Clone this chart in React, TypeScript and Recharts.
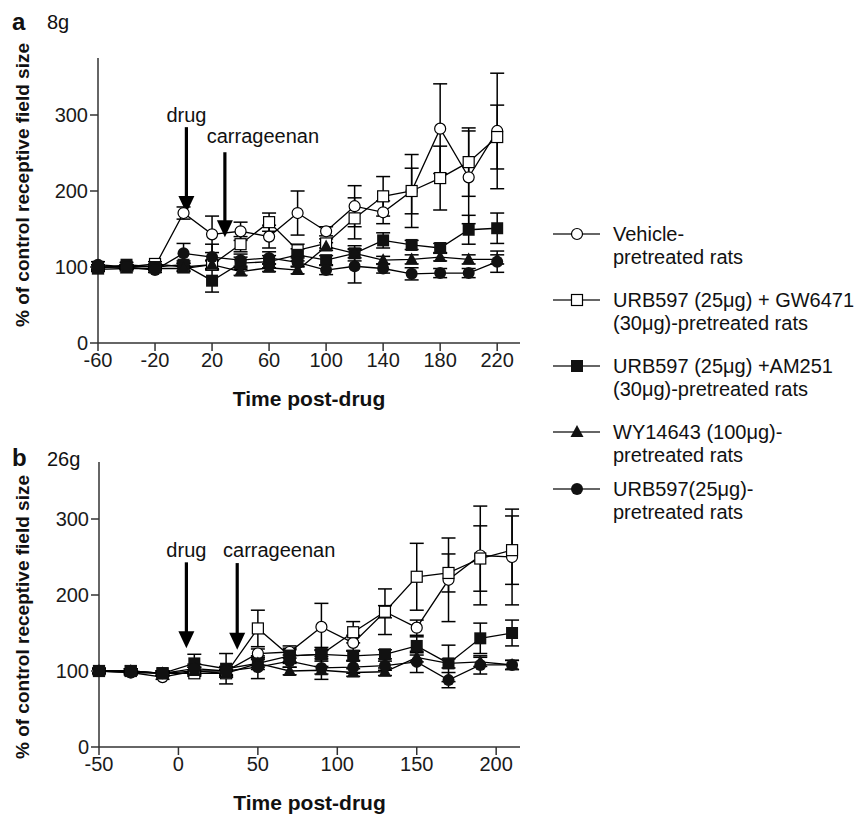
import React from "react";
import { LineChart, Line, XAxis, YAxis, ErrorBar, ReferenceLine } from "recharts";

const FONT = '"Liberation Sans", Arial, Helvetica, sans-serif';

// panel a (8g)
const timesA = [-60, -40, -20, 0, 20, 40, 60, 80, 100, 120, 140, 160, 180, 200, 220];
const ticksA = [-60, -20, 20, 60, 100, 140, 180, 220];
const vehA = [100, 100, 101, 171, 143, 147, 140, 171, 147, 180, 172, 200, 282, 218, 279];
const vehAErr = [3, 3, 3, 8, 24, 12, 15, 29, 6, 27, 15, 48, 59, 61, 76];
const gwA = [100, 100, 104, 100, 103, 130, 159, 122, 131, 164, 193, 200, 217, 238, 271];
const gwAErr = [3, 3, 3, 5, 5, 10, 12, 8, 6, 27, 26, 30, 42, 45, 42];
const amA = [98, 103, 100, 103, 82, 105, 107, 116, 109, 118, 135, 129, 125, 149, 151];
const amAErr = [3, 3, 3, 5, 15, 8, 8, 8, 6, 10, 10, 6, 6, 19, 20];
const wyA = [97, 98, 98, 98, 103, 94, 99, 96, 127, 118, 109, 110, 113, 110, 110];
const wyAErr = [3, 3, 3, 4, 6, 5, 5, 5, 5, 6, 5, 6, 5, 6, 6];
const urbA = [103, 100, 96, 118, 113, 109, 112, 106, 96, 101, 98, 91, 92, 92, 107];
const urbAErr = [4, 3, 3, 13, 17, 8, 8, 6, 6, 22, 6, 8, 6, 6, 14];

// panel b (26g)
const timesB = [-50, -30, -10, 10, 30, 50, 70, 90, 110, 130, 150, 170, 190, 210];
const ticksB = [-50, 0, 50, 100, 150, 200];
const vehB = [100, 98, 92, 100, 100, 123, 125, 158, 137, 178, 157, 220, 252, 250];
const vehBErr = [3, 3, 3, 5, 5, 6, 8, 31, 10, 8, 10, 55, 65, 63];
const gwB = [100, 100, 97, 97, 97, 156, 120, 122, 151, 178, 224, 229, 248, 259];
const gwBErr = [3, 3, 3, 4, 5, 24, 8, 6, 14, 30, 44, 25, 43, 45];
const amB = [100, 100, 97, 110, 103, 110, 120, 122, 120, 122, 133, 110, 143, 150];
const amBErr = [3, 3, 3, 12, 20, 8, 10, 9, 6, 6, 12, 24, 20, 17];
const wyB = [100, 100, 97, 100, 97, 110, 100, 101, 98, 99, 118, 110, 112, 108];
const wyBErr = [3, 3, 3, 5, 5, 5, 5, 5, 5, 5, 6, 6, 6, 6];
const urbB = [100, 98, 97, 103, 100, 105, 113, 104, 105, 107, 112, 88, 108, 108];
const urbBErr = [4, 3, 3, 6, 6, 15, 8, 15, 8, 6, 14, 10, 12, 6];

const yTicks = [0, 100, 200, 300];

const rowsA = timesA.map((t, i) => ({
  t,
  veh: vehA[i], vehErr: vehAErr[i],
  gw: gwA[i], gwErr: gwAErr[i],
  am: amA[i], amErr: amAErr[i],
  wy: wyA[i], wyErr: wyAErr[i],
  urb: urbA[i], urbErr: urbAErr[i],
}));

const rowsB = timesB.map((t, i) => ({
  t,
  veh: vehB[i], vehErr: vehBErr[i],
  gw: gwB[i], gwErr: gwBErr[i],
  am: amB[i], amErr: amBErr[i],
  wy: wyB[i], wyErr: wyBErr[i],
  urb: urbB[i], urbErr: urbBErr[i],
}));

// drawing order: open symbols underneath, filled ones on top
const series = [
  { key: "veh", kind: "openCircle", name: ["Vehicle-", "pretreated rats"] },
  { key: "gw", kind: "openSquare", name: ["URB597 (25\u03bcg) + GW6471", "(30\u03bcg)-pretreated rats"] },
  { key: "am", kind: "filledSquare", name: ["URB597 (25\u03bcg) +AM251", "(30\u03bcg)-pretreated rats"] },
  { key: "wy", kind: "triangle", name: ["WY14643 (100\u03bcg)-", "pretreated rats"] },
  { key: "urb", kind: "filledCircle", name: ["URB597(25\u03bcg)-", "pretreated rats"] },
];

function Marker({ kind, cx, cy }: { kind: string; cx: number; cy: number }) {
  switch (kind) {
    case "openCircle":
      return <circle cx={cx} cy={cy} r={5.5} fill="#fff" stroke="#000" strokeWidth={1.2} />;
    case "openSquare":
      return <rect x={cx - 5.5} y={cy - 5.5} width={11} height={11} fill="#fff" stroke="#000" strokeWidth={1.2} />;
    case "filledSquare":
      return <rect x={cx - 6} y={cy - 6} width={12} height={12} fill="#111" />;
    case "triangle":
      return <polygon points={`${cx},${cy - 7} ${cx + 6.5},${cy + 5} ${cx - 6.5},${cy + 5}`} fill="#111" />;
    default:
      return <circle cx={cx} cy={cy} r={6} fill="#111" />;
  }
}

const dotFor = (kind: string) => (props: any) => {
  const { cx, cy, index } = props;
  if (cx == null || cy == null) return <g key={`${kind}-${index}`} />;
  return (
    <g key={`${kind}-${index}`}>
      <Marker kind={kind} cx={cx} cy={cy} />
    </g>
  );
};

const arrowShape = (label: string, dx: number, dy: number) => (p: any) => {
  const { x1, y1, y2 } = p;
  const top = Math.min(y1, y2);
  const tip = Math.max(y1, y2);
  const head = 17;
  return (
    <g>
      <line x1={x1} y1={top} x2={x1} y2={tip - head + 2} stroke="#000" strokeWidth={3.2} />
      <polygon points={`${x1 - 8},${tip - head} ${x1 + 8},${tip - head} ${x1},${tip}`} fill="#000" />
      <text x={x1 + dx} y={top + dy} textAnchor="middle" fontSize={20} fontFamily={FONT} fill="#111">
        {label}
      </text>
    </g>
  );
};

const axisLine = { stroke: "#333", strokeWidth: 1.5 };
const tickStyle = { fontSize: 20, fill: "#1a1a1a", fontFamily: FONT };

function Panel({ data, domainX, ticksX, yAxisWidth, height, top, axisH, labelOffset, arrows }: any) {
  return (
    <LineChart
      width={540}
      height={height}
      data={data}
      margin={{ top, right: 20, bottom: 0, left: 0 }}
    >
      <XAxis
        dataKey="t"
        type="number"
        domain={domainX}
        ticks={ticksX}
        tickSize={8}
        height={axisH}
        axisLine={axisLine}
        tickLine={axisLine}
        tick={tickStyle}
        label={{
          value: "Time post-drug",
          position: "insideBottom",
          offset: labelOffset,
          fontWeight: 700,
          fontSize: 21,
          fill: "#111",
          fontFamily: FONT,
        }}
      />
      <YAxis
        type="number"
        domain={[0, 375]}
        ticks={yTicks}
        width={yAxisWidth}
        tickSize={8}
        axisLine={axisLine}
        tickLine={axisLine}
        tick={tickStyle}
      />
      {arrows.map((a: any) => (
        <ReferenceLine
          key={a.label}
          segment={[{ x: a.x, y: a.from }, { x: a.x, y: a.to }]}
          ifOverflow="visible"
          shape={arrowShape(a.label, a.dx, a.dy)}
        />
      ))}
      {series.map((s) => (
        <Line
          key={s.key}
          type="linear"
          dataKey={s.key}
          stroke="#000"
          strokeWidth={1.3}
          dot={dotFor(s.kind)}
          activeDot={false}
          isAnimationActive={false}
        >
          <ErrorBar
            dataKey={`${s.key}Err`}
            direction="y"
            width={7}
            stroke="#000"
            strokeWidth={1.5}
            isAnimationActive={false}
          />
        </Line>
      ))}
    </LineChart>
  );
}

function Overlay() {
  const legendOrder = ["veh", "gw", "am", "wy", "urb"];
  const legendY = [234, 300, 366, 432, 489];
  return (
    <svg
      width={868}
      height={814}
      style={{ position: "absolute", left: 0, top: 0, pointerEvents: "none" }}
      fontFamily={FONT}
    >
      <text x={12} y={30} fontSize={24} fontWeight={700} fill="#111">a</text>
      <text x={47} y={29} fontSize={20} fill="#111">8g</text>
      <text x={12} y={466} fontSize={24} fontWeight={700} fill="#111">b</text>
      <text x={47} y={466} fontSize={20} fill="#111">26g</text>
      <text
        x={22}
        y={185}
        transform="rotate(-90 22 185)"
        textAnchor="middle"
        dominantBaseline="central"
        fontSize={19}
        fontWeight={700}
        fill="#111"
      >
        % of control receptive field size
      </text>
      <text
        x={22}
        y={617}
        transform="rotate(-90 22 617)"
        textAnchor="middle"
        dominantBaseline="central"
        fontSize={19}
        fontWeight={700}
        fill="#111"
      >
        % of control receptive field size
      </text>
      {legendOrder.map((k, i) => {
        const s = series.find((x) => x.key === k)!;
        const y = legendY[i];
        return (
          <g key={k}>
            <line x1={553} x2={600} y1={y} y2={y} stroke="#333" strokeWidth={1.3} />
            <Marker kind={s.kind} cx={577} cy={y} />
            <text x={613} y={y + 7} fontSize={20} fill="#111">{s.name[0]}</text>
            <text x={613} y={y + 30} fontSize={20} fill="#111">{s.name[1]}</text>
          </g>
        );
      })}
    </svg>
  );
}

export default function App() {
  return (
    <div style={{ position: "absolute", left: 0, top: 0, width: 868, height: 814, background: "#fff" }}>
      <div style={{ position: "absolute", left: 0, top: 0 }}>
        <Panel
          data={rowsA}
          domainX={[-60, 236]}
          ticksX={ticksA}
          yAxisWidth={98}
          height={420}
          top={58}
          axisH={77}
          labelOffset={14}
          arrows={[
            { label: "drug", x: 2, from: 284, to: 171, dx: 0, dy: -5 },
            { label: "carrageenan", x: 29, from: 251, to: 139, dx: 38, dy: -9 },
          ]}
        />
      </div>
      <div style={{ position: "absolute", left: 0, top: 420 }}>
        <Panel
          data={rowsB}
          domainX={[-50, 215]}
          ticksX={ticksB}
          yAxisWidth={99}
          height={394}
          top={42}
          axisH={67}
          labelOffset={4}
          arrows={[
            { label: "drug", x: 5, from: 243, to: 130, dx: 0, dy: -5 },
            { label: "carrageenan", x: 37, from: 242, to: 128, dx: 42, dy: -6 },
          ]}
        />
      </div>
      <Overlay />
    </div>
  );
}
